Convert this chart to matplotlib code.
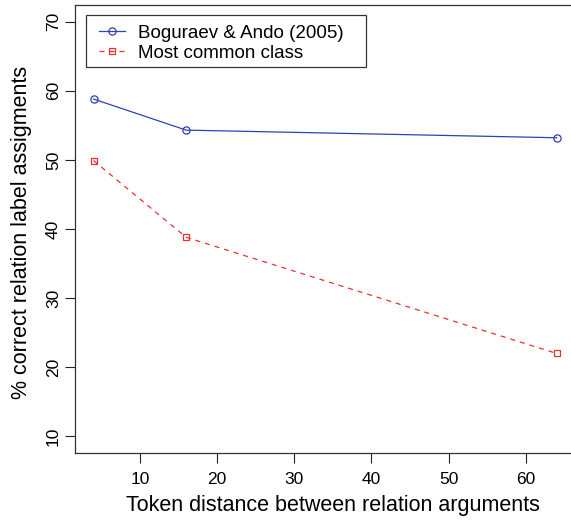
import matplotlib
matplotlib.use("Agg")
import matplotlib.pyplot as plt
from matplotlib.patches import Rectangle

# Data
token_distance = [4, 16, 64]
boguraev_ando = [58.8, 54.3, 53.2]
most_common = [49.9, 38.8, 22.0]
series_labels = ["Boguraev & Ando (2005)", "Most common class"]
x_ticks = [10, 20, 30, 40, 50, 60]
y_ticks = [10, 20, 30, 40, 50, 60, 70]
xlabel = "Token distance between relation arguments"
ylabel = "% correct relation label assigments"

plt.rcParams['font.family'] = ['Liberation Sans', 'DejaVu Sans']

W, H = 571, 520
fig = plt.figure(figsize=(W / 100, H / 100), dpi=100)
# plot region in pixels; the right edge of the plot box lies outside the image (cropped)
L, R_true, T, B = 75, 575.2, 5, 453
R = 620
x0, x1 = 1.6, 66.4
x1_ext = x0 + (x1 - x0) * (R - L) / (R_true - L)
ax = fig.add_axes([L / W, (H - B) / H, (R - L) / W, (B - T) / H])

blue = '#2f40b4'
red = '#e8302c'
ax.plot(token_distance, boguraev_ando, color=blue, lw=0.9, marker='o', ms=5.2,
        mfc='none', mec=blue, mew=0.9, label=series_labels[0])
ax.plot(token_distance, most_common, color=red, lw=0.9, ls=(0, (4, 4)), marker='s', ms=5.0,
        mfc='none', mec=red, mew=0.9, label=series_labels[1])

ax.set_xlim(x0, x1_ext)
ax.set_ylim(7.6, 72.4)
ax.set_xticks(x_ticks)
ax.set_yticks(y_ticks)
ax.tick_params(axis='both', labelsize=12.5, length=7, width=0.8, color='#222222')
ax.tick_params(axis='x', pad=6.5)
ax.tick_params(axis='y', pad=3)
for lab in ax.get_yticklabels():
    lab.set_rotation(90)
    lab.set_va('center')
for s in ax.spines.values():
    s.set_linewidth(0.9)
    s.set_color('#333333')
ax.spines['right'].set_visible(False)

ax.set_xlabel(xlabel, fontsize=15.5)
ax.xaxis.set_label_coords((332.5 - L) / (R - L), (B - 505) / (B - T))
ax.xaxis.label.set_va('center')
ax.set_ylabel(ylabel, fontsize=15.5)
ax.yaxis.set_label_coords((22 - L) / (R - L), (B - 232.5) / (B - T))
ax.yaxis.label.set_va('center')

# legend frame drawn manually
lx0, lx1, ly0, ly1 = 85.7, 366, 15, 66.7
ax.add_patch(Rectangle(((lx0 - L) / (R - L), (B - ly1) / (B - T)),
                       (lx1 - lx0) / (R - L), (ly1 - ly0) / (B - T),
                       transform=ax.transAxes, fill=False, ec='#333333', lw=0.9, zorder=5))
leg = ax.legend(loc='upper left',
                bbox_to_anchor=((lx0 + 8.5 - L) / (R - L), (B - (ly0 + 4.7)) / (B - T)),
                frameon=False, fontsize=13.5, handlelength=1.4, handletextpad=0.7,
                borderpad=0.25, labelspacing=0.16, borderaxespad=0, numpoints=1)

fig.savefig("out.png", dpi=100)
